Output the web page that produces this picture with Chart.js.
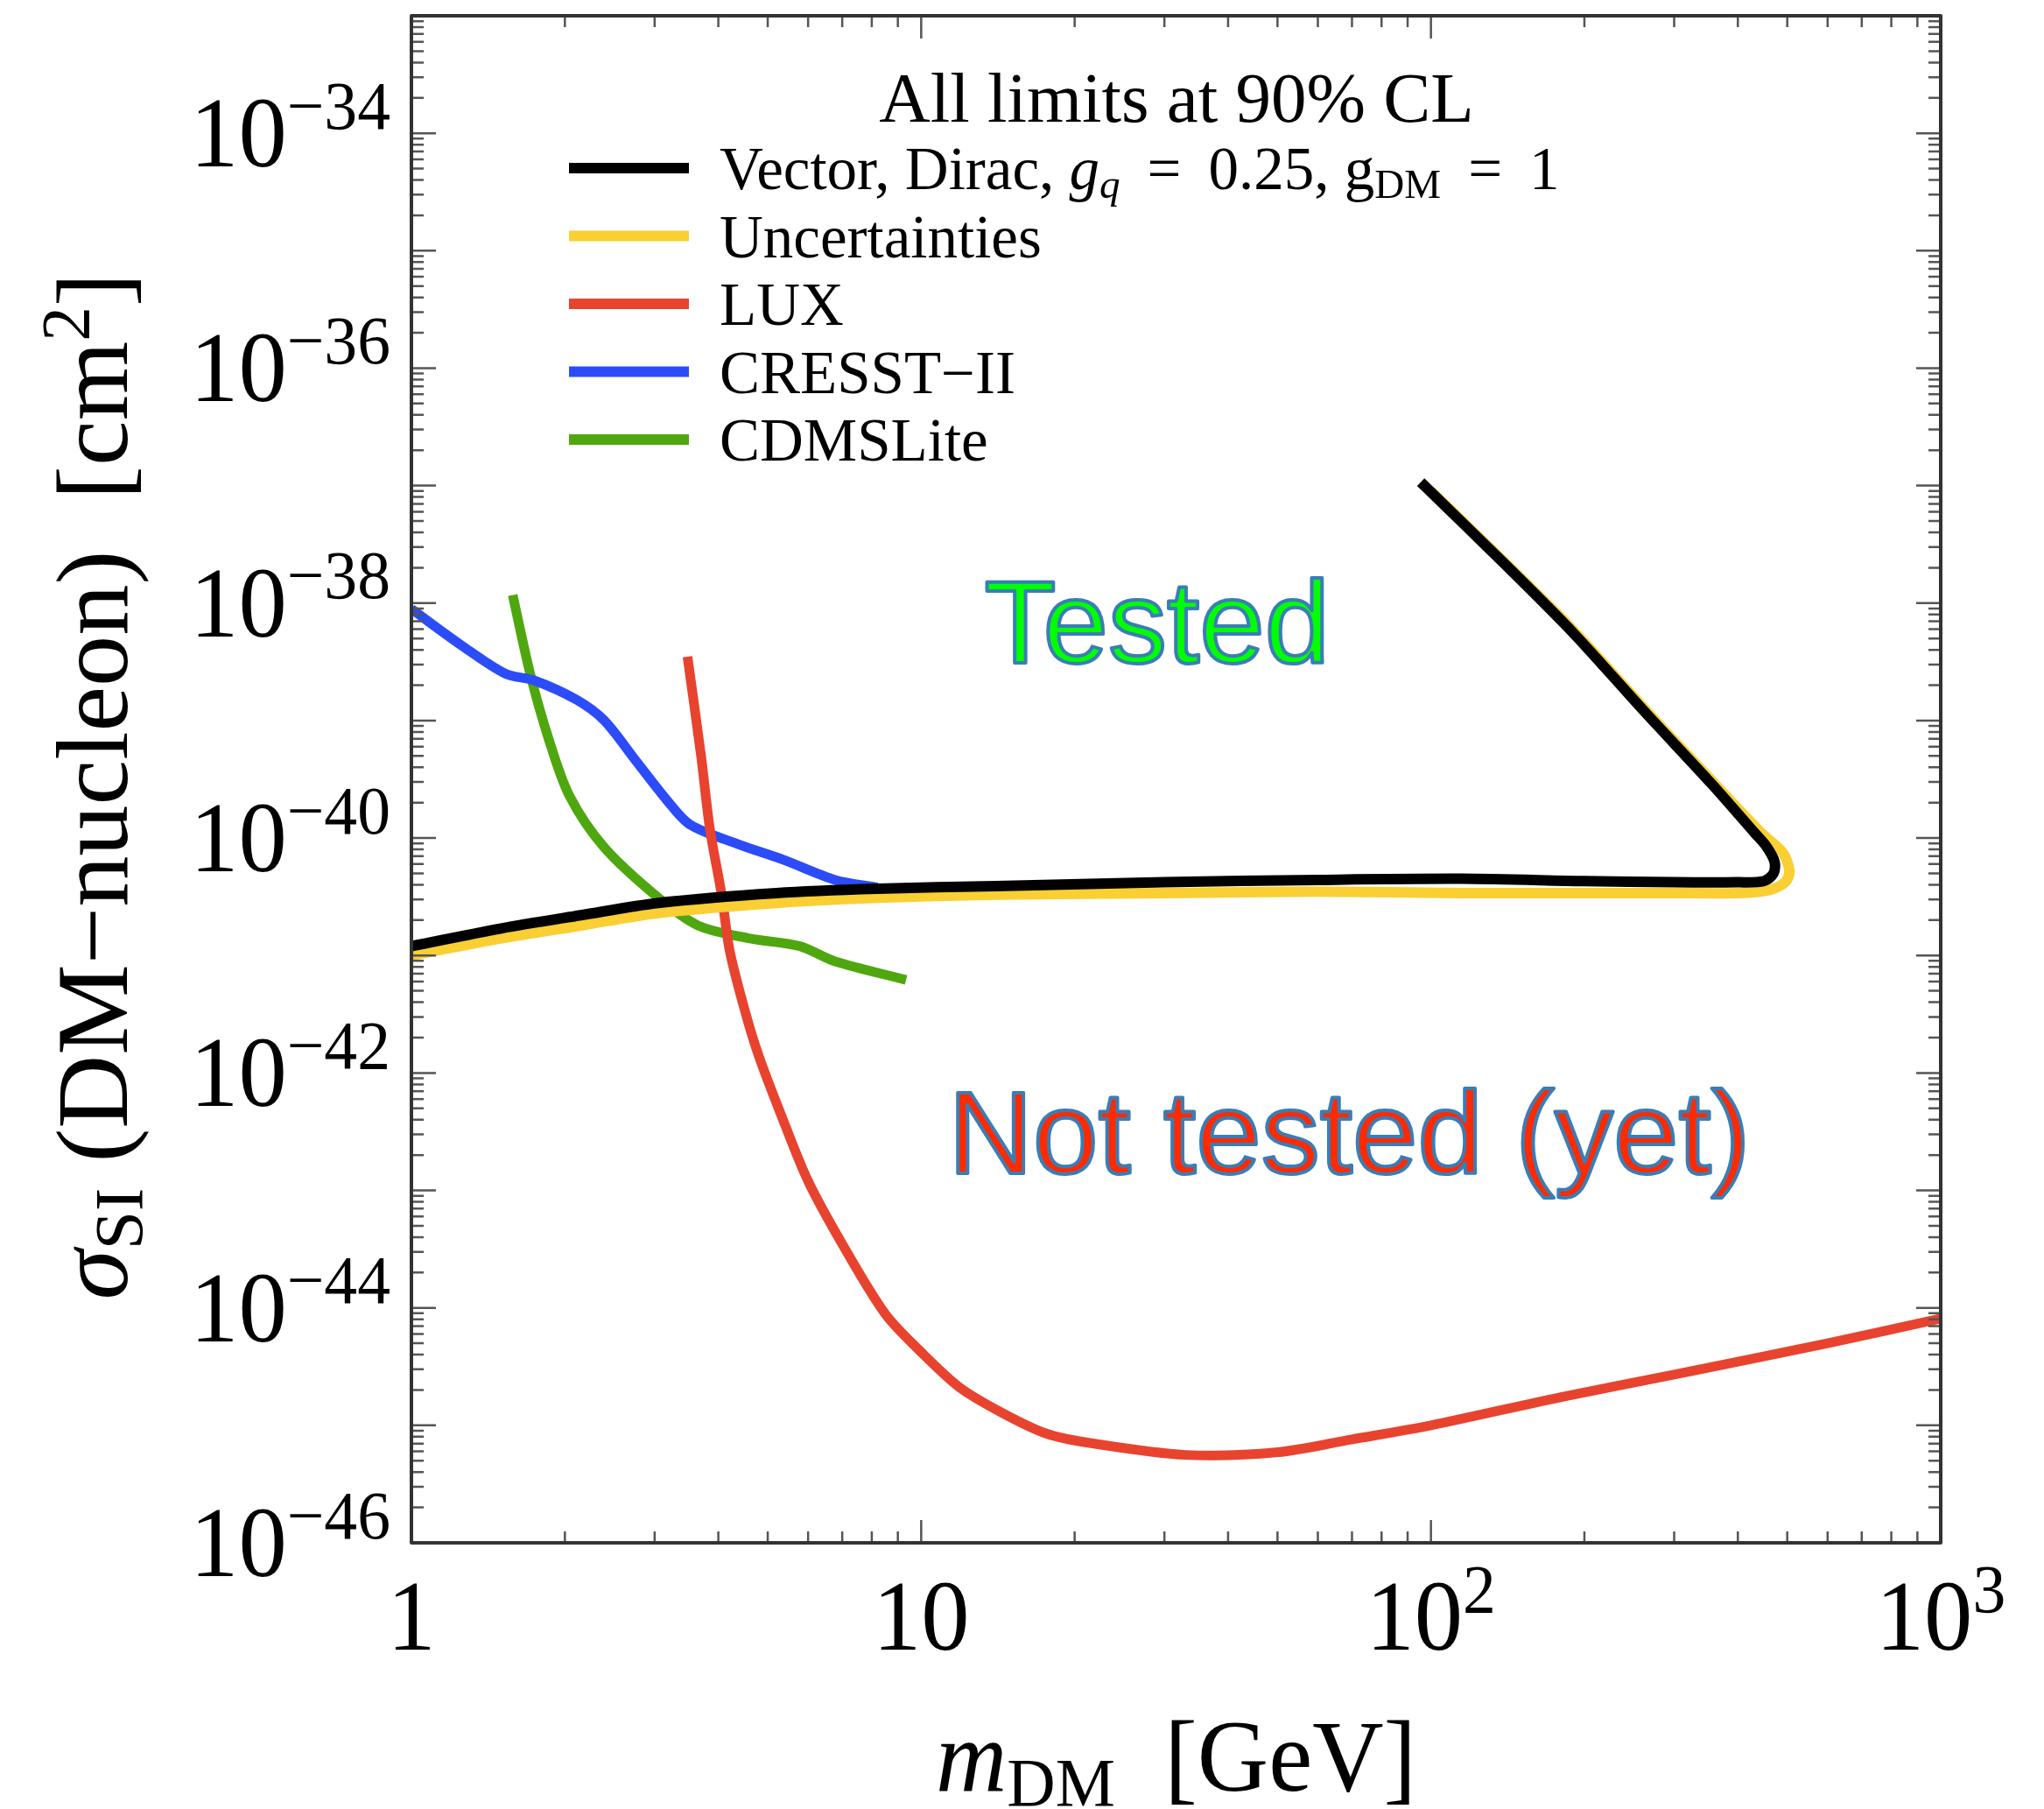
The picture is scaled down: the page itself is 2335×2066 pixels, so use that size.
<!DOCTYPE html>
<html>
<head>
<meta charset="utf-8">
<script src="https://cdn.jsdelivr.net/npm/chart.js@4.4.1/dist/chart.umd.min.js"></script>
<style>
  html, body { margin: 0; background: #fff; }
</style>
</head>
<body>
<canvas id="chart" width="2335" height="2066"></canvas>
<script>
// m_DM in GeV, sigma_SI in cm^2
const vectorMass  = [1, 1.5, 2.15, 3.05, 5.2, 8.2, 14, 30, 60, 115, 200, 300, 400, 450, 470, 472, 455, 432, 355, 262, 190, 142, 95.5];
const vectorSigma = [1.2e-41, 1.7e-41, 2.2e-41, 2.8e-41, 3.4e-41, 3.7e-41, 3.9e-41, 4.2e-41, 4.4e-41, 4.5e-41, 4.3e-41, 4.2e-41, 4.2e-41, 4.3e-41, 5.0e-41, 6.3e-41, 8.5e-41, 1.1e-40, 2.9e-40, 1.2e-39, 5.6e-39, 2.0e-38, 1.07e-37];

const uncMass  = [1, 1.5, 2.15, 3.05, 5.2, 8.2, 14, 30, 60, 115, 200, 300, 400, 460, 495, 505, 490, 445, 360, 265, 192, 143, 100];
const uncSigma = [1.0e-41, 1.4e-41, 1.8e-41, 2.3e-41, 2.8e-41, 3.1e-41, 3.3e-41, 3.4e-41, 3.5e-41, 3.4e-41, 3.4e-41, 3.4e-41, 3.4e-41, 3.6e-41, 4.2e-41, 5.2e-41, 7.5e-41, 1.1e-40, 2.9e-40, 1.2e-39, 5.6e-39, 2.0e-38, 9.0e-38];

const luxMass  = [3.48, 3.7, 3.85, 4.06, 4.21, 4.5, 4.8, 5.3, 6.0, 7.0, 8.5, 10, 11.9, 14.5, 17.6, 21.3, 33, 50, 70, 100, 180, 300, 600, 1000];
const luxSigma = [3.5e-39, 5e-40, 1.2e-40, 3.3e-41, 1.1e-41, 3.5e-42, 1.4e-42, 4.5e-43, 1.2e-43, 3.5e-44, 8.9e-45, 4.2e-45, 2.1e-45, 1.26e-45, 8.5e-46, 7.1e-46, 5.6e-46, 5.9e-46, 7.6e-46, 1.0e-45, 1.74e-45, 2.7e-45, 5.0e-45, 8.1e-45];

const cresstMass  = [1.0, 1.26, 1.53, 1.74, 2.11, 2.39, 2.75, 3.17, 3.52, 4.36, 5.38, 6.78, 8.2];
const cresstSigma = [8.9e-39, 4.3e-39, 2.5e-39, 2.2e-39, 1.5e-39, 1.0e-39, 4.6e-40, 2.1e-40, 1.3e-40, 8.9e-41, 6.5e-41, 4.4e-41, 3.8e-41];

const cdmsMass  = [1.58, 1.71, 1.86, 2.04, 2.39, 3.05, 3.65, 4.59, 5.78, 6.78, 9.34];
const cdmsSigma = [1.17e-38, 2.5e-39, 6.9e-40, 2.3e-40, 8.3e-41, 3.1e-41, 1.8e-41, 1.4e-41, 1.2e-41, 8.9e-42, 6.2e-42];

const xTickLabels = [1, 10, 100, 1000];
const yLabelExps = [-34, -36, -38, -40, -42, -44, -46];

const seriesNames  = ["Vector", "Uncertainties", "LUX", "CRESST\u2212II", "CDMSLite"];
const seriesColors = ["#000000", "#f9cf33", "#e8432f", "#2b4cf8", "#4fa70f"];

const notes = [
  { text: "Tested", x: 13.3, y: 3.1e-39, fill: "#00ff00" },
  { text: "Not tested (yet)", x: 11.3, y: 1.4e-43, fill: "#ff2a00" }
];

const pts = (xs, ys) => xs.map((x, i) => ({ x, y: ys[i] }));
const SERIF = '"Liberation Serif", "Times New Roman", serif';

function segFont(s, base) {
  const size = (s.sub || s.sup) ? base * 0.68 : base;
  return (s.it ? "italic " : "") + Math.round(size) + "px " + SERIF;
}
function richWidth(ctx, segs, base) {
  let w = 0;
  for (const s of segs) { ctx.font = segFont(s, base); w += ctx.measureText(s.t).width; }
  return w;
}
// draws a run of text pieces with sub/superscripts
function drawRich(ctx, segs, x, y, base, align, squeeze) {
  squeeze = squeeze || 1;
  const w = richWidth(ctx, segs, base) * squeeze;
  const left = align === "center" ? x - w / 2 : align === "right" ? x - w : x;
  ctx.save();
  ctx.translate(left, y);
  ctx.scale(squeeze, 1);
  ctx.textAlign = "left";
  ctx.textBaseline = "alphabetic";
  let px = 0;
  for (const s of segs) {
    ctx.font = segFont(s, base);
    const dy = s.sub ? base * 0.15 : s.sup ? -base * 0.38 : 0;
    ctx.fillText(s.t, px, dy);
    px += ctx.measureText(s.t).width;
  }
  ctx.restore();
}

const framePlugin = {
  id: "frame",
  afterDatasetsDraw(chart) {
    const { ctx, chartArea: a, scales: { x, y } } = chart;
    ctx.save();

    // region notes
    ctx.font = '134px "Liberation Sans", Arial, sans-serif';
    ctx.textAlign = "left";
    ctx.textBaseline = "alphabetic";
    ctx.lineJoin = "round";
    for (const n of notes) {
      const px = x.getPixelForValue(n.x), py = y.getPixelForValue(n.y);
      ctx.fillStyle = n.fill;
      ctx.fillText(n.text, px, py);
      ctx.strokeStyle = "#3a7db6";
      ctx.lineWidth = 4;
      ctx.strokeText(n.text, px, py);
    }

    // ticks (inward, on all four sides)
    ctx.strokeStyle = "#555";
    ctx.lineWidth = 2.5;
    ctx.beginPath();
    for (let e = 0; e <= 3; e++) {
      for (let k = 1; k <= 9; k++) {
        const v = k * Math.pow(10, e);
        if (v > 1000) break;
        const px = x.getPixelForValue(v);
        const len = k === 1 ? 26 : 13;
        ctx.moveTo(px, a.bottom); ctx.lineTo(px, a.bottom - len);
        ctx.moveTo(px, a.top); ctx.lineTo(px, a.top + len);
      }
    }
    for (let e = -46; e <= -33; e++) {
      for (let k = 1; k <= 9; k++) {
        const v = k * Math.pow(10, e);
        if (e === -33 && k > 1) break;
        const py = y.getPixelForValue(v);
        const len = k === 1 ? 28 : 14;
        ctx.moveTo(a.left, py); ctx.lineTo(a.left + len, py);
        ctx.moveTo(a.right, py); ctx.lineTo(a.right - len, py);
      }
    }
    ctx.stroke();

    // frame
    ctx.strokeStyle = "#333";
    ctx.lineWidth = 4;
    ctx.strokeRect(a.left, a.top, a.right - a.left, a.bottom - a.top);

    // tick labels
    ctx.fillStyle = "#000";
    const TL = 114, SQ = 0.97;
    for (const v of xTickLabels) {
      const e = Math.round(Math.log10(v));
      const segs = e <= 1 ? [{ t: String(v) }] : [{ t: "10" }, { t: String(e), sup: true }];
      drawRich(ctx, segs, x.getPixelForValue(v), a.bottom + 122, TL, "center", SQ);
    }
    for (const e of yLabelExps) {
      const py = y.getPixelForValue(Math.pow(10, e));
      drawRich(ctx, [{ t: "10" }, { t: "\u2212" + Math.abs(e), sup: true }], a.left - 24, py + 38, TL, "right", SQ);
    }

    // axis titles
    const xt = [{ t: "m", it: true }, { t: "DM", sub: true }, { t: "  [GeV]" }];
    const xw = richWidth(ctx, xt, 116);
    drawRich(ctx, xt, (a.left + a.right) / 2, 2045, 116, "center", 549 / xw);

    const yt = [{ t: "\u03c3", it: true }, { t: "SI", sub: true }, { t: " (DM\u2212nucleon)  [cm" }, { t: "2", sup: true }, { t: "]" }];
    const yw = richWidth(ctx, yt, 116);
    ctx.save();
    ctx.translate(145, (a.top + a.bottom) / 2 + 8);
    ctx.rotate(-Math.PI / 2);
    drawRich(ctx, yt, 0, 0, 116, "center", 1173 / yw);
    ctx.restore();

    // legend
    drawRich(ctx, [{ t: "All limits at 90% CL" }], 1344, 139, 81, "center");
    const labels = [
      [{ t: "Vector, Dirac, " }, { t: "g", it: true }, { t: "q", it: true, sub: true }, { t: "\u2009 = \u20090.25, " }, { t: "g" }, { t: "DM", sub: true }, { t: "\u2009 = \u20091" }],
      [{ t: seriesNames[1] }],
      [{ t: seriesNames[2] }],
      [{ t: seriesNames[3] }],
      [{ t: seriesNames[4] }]
    ];
    labels.forEach((segs, i) => {
      const cy = 192 + i * 77.5;
      ctx.strokeStyle = seriesColors[i];
      ctx.lineWidth = 12;
      ctx.beginPath();
      ctx.moveTo(650, cy); ctx.lineTo(787, cy);
      ctx.stroke();
      ctx.fillStyle = "#000";
      drawRich(ctx, segs, 822, cy + 24, 69, "left");
    });

    ctx.restore();
  }
};

const line = (label, data, color, width) => ({
  label, data, borderColor: color, backgroundColor: color, borderWidth: width,
  showLine: true, pointRadius: 0, tension: 0.3, borderCapStyle: "butt", borderJoinStyle: "round", fill: false
});

new Chart(document.getElementById("chart"), {
  type: "scatter",
  data: {
    datasets: [
      line(seriesNames[0], pts(vectorMass, vectorSigma), seriesColors[0], 12),
      line(seriesNames[1], pts(uncMass, uncSigma), seriesColors[1], 12),
      line(seriesNames[2], pts(luxMass, luxSigma), seriesColors[2], 11),
      line(seriesNames[3], pts(cresstMass, cresstSigma), seriesColors[3], 11),
      line(seriesNames[4], pts(cdmsMass, cdmsSigma), seriesColors[4], 11)
    ]
  },
  options: {
    responsive: false,
    animation: false,
    events: [],
    layout: { padding: { left: 470, right: 118, top: 18, bottom: 304 } },
    scales: {
      x: { type: "logarithmic", min: 1, max: 1000, display: false },
      y: { type: "logarithmic", min: 1e-46, max: 1e-33, display: false }
    },
    plugins: { legend: { display: false }, tooltip: { enabled: false } }
  },
  plugins: [framePlugin]
});
</script>
</body>
</html>
